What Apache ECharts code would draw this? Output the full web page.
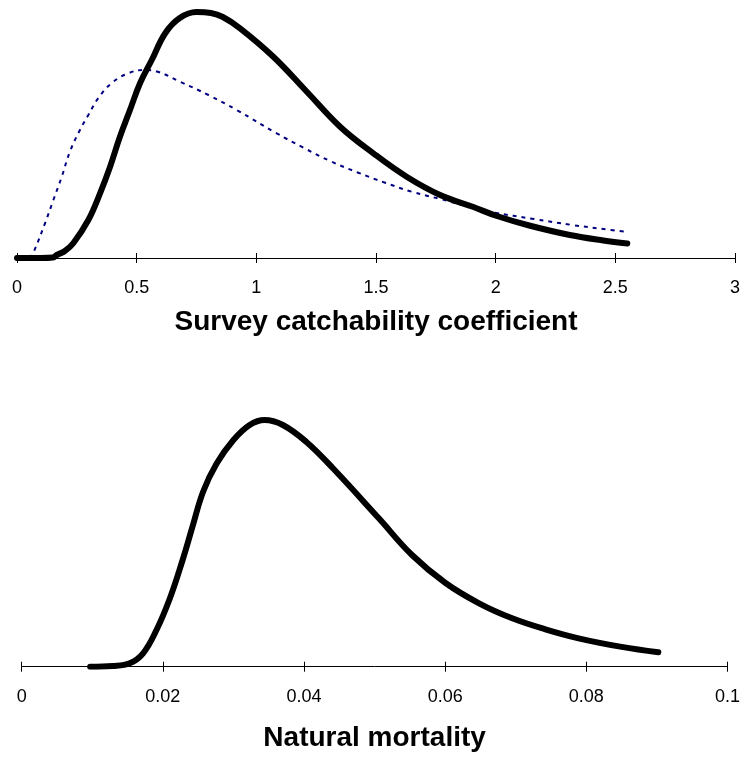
<!DOCTYPE html>
<html>
<head>
<meta charset="utf-8">
<script src="https://cdn.jsdelivr.net/npm/echarts@6/dist/echarts.min.js"></script>
<style>
  html, body { margin: 0; padding: 0; background: #fff; }
  #chart { width: 743px; height: 758px; }
</style>
</head>
<body>
<div id="chart"></div>
<script>
// top panel: survey catchability coefficient
const qTicks = ['0', '0.5', '1', '1.5', '2', '2.5', '3']
const qSolidX = [0, 0.1, 0.15, 0.166, 0.20, 0.235, 0.298, 0.347, 0.389, 0.430, 0.472, 0.514, 0.563, 0.62, 0.68, 0.75, 0.81, 0.86, 0.932, 1.071, 1.211, 1.350, 1.489, 1.628, 1.768, 1.907, 2.005, 2.14, 2.31, 2.45, 2.55]
const qSolidY = [0, 0, 0.5, 3, 7, 14.7, 38, 64.7, 91.3, 121.3, 148, 174.7, 198, 225, 240, 246, 245, 241, 229.7, 201.3, 166.3, 131.3, 104.7, 81.3, 63, 51, 42, 32.5, 23, 17.5, 14.5]
const qDotX = [0.05, 0.068, 0.117, 0.152, 0.187, 0.221, 0.263, 0.298, 0.340, 0.396, 0.465, 0.53, 0.585, 0.681, 0.80, 0.918, 1.085, 1.197, 1.308, 1.426, 1.538, 1.649, 1.768, 1.88, 1.99, 2.16, 2.32, 2.45, 2.55]
const qDotY = [0, 5.3, 34.7, 58, 81.3, 106.3, 128, 143, 160, 175, 184.7, 188, 186.5, 176.3, 163, 148, 124.7, 110.3, 97, 85.3, 75.3, 66.3, 59, 52, 45.7, 39, 33, 29, 26]

// bottom panel: natural mortality
const mTicks = ['0', '0.02', '0.04', '0.06', '0.08', '0.1']
const mX = [0.0097, 0.0129, 0.0153, 0.0172, 0.0191, 0.021, 0.0228, 0.0242, 0.0257, 0.0276, 0.03, 0.0323, 0.0344, 0.037, 0.0403, 0.0441, 0.0506, 0.0553, 0.0601, 0.0648, 0.0695, 0.0742, 0.0789, 0.085, 0.0902]
const mY = [0, 0.7, 3.4, 13.4, 36.7, 68.4, 106.7, 140, 175, 203, 226.7, 241.7, 246.7, 241.7, 225, 198.4, 148.4, 111.7, 83.4, 63.4, 48.4, 37.4, 28.4, 19.8, 14.4]

const font = 'Liberation Sans, Arial, sans-serif'
const zip = (xs, ys) => xs.map((x, i) => [x, ys[i]])

function xAxes(grid, max, step, ticks, title, gap) {
  return [{
    type: 'value', gridIndex: grid, position: 'bottom',
    min: 0, max: max, interval: step,
    name: title, nameLocation: 'middle', nameGap: gap,
    nameTextStyle: { fontFamily: font, fontSize: 28, fontWeight: 'bold', color: '#000' },
    axisLine: { onZero: false, lineStyle: { color: '#000', width: 1 } },
    axisTick: { length: 5, lineStyle: { color: '#000' } },
    axisLabel: {
      margin: 21, fontFamily: font, fontSize: 18, color: '#000',
      formatter: v => ticks[Math.round(v / step)]
    },
    splitLine: { show: false }
  }, {
    // second copy only for the tick halves above the line
    type: 'value', gridIndex: grid, position: 'bottom',
    min: 0, max: max, interval: step,
    axisLine: { show: false, onZero: false },
    axisTick: { inside: true, length: 5, lineStyle: { color: '#000' } },
    axisLabel: { show: false },
    splitLine: { show: false }
  }]
}

const chart = echarts.init(document.getElementById('chart'))

chart.setOption({
  animation: false,
  grid: [
    { left: 17, right: 8, top: 0, height: 258 },
    { left: 21.7, right: 13.7, top: 400, height: 266.7 }
  ],
  xAxis: [
    ...xAxes(0, 3, 0.5, qTicks, 'Survey catchability coefficient', 50),
    ...xAxes(1, 0.1, 0.02, mTicks, 'Natural mortality', 58)
  ],
  yAxis: [
    { type: 'value', gridIndex: 0, min: 0, max: 258, show: false },
    { type: 'value', gridIndex: 1, min: 0, max: 266.7, show: false }
  ],
  series: [{
    type: 'line', xAxisIndex: 0, yAxisIndex: 0,
    data: zip(qDotX, qDotY),
    smooth: 0.4, symbol: 'none',
    lineStyle: { color: '#000080', width: 2, type: [4, 5] }
  }, {
    type: 'line', xAxisIndex: 0, yAxisIndex: 0,
    data: zip(qSolidX, qSolidY),
    smooth: 0.4, symbol: 'none',
    lineStyle: { color: '#000', width: 6, cap: 'round', join: 'round' }
  }, {
    type: 'line', xAxisIndex: 2, yAxisIndex: 1,
    data: zip(mX, mY),
    smooth: 0.4, symbol: 'none',
    lineStyle: { color: '#000', width: 6, cap: 'round', join: 'round' }
  }]
})
</script>
</body>
</html>
